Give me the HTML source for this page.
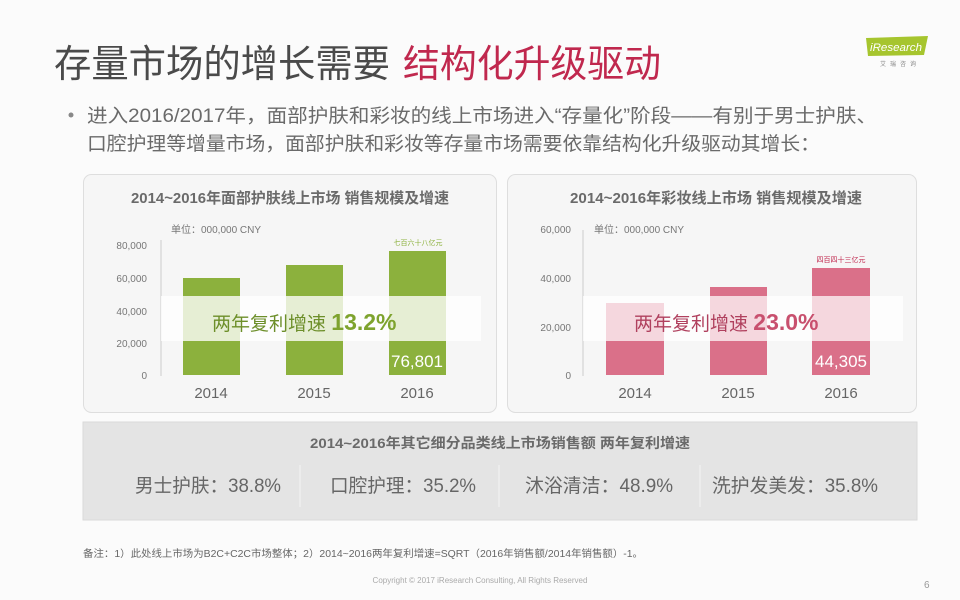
<!DOCTYPE html>
<html><head><meta charset="utf-8"><style>
html,body{margin:0;padding:0;background:#fff;}
svg{display:block;}
text{font-family:"Liberation Sans","Noto Sans CJK SC",sans-serif;}
</style></head><body>
<svg width="960" height="600" viewBox="0 0 960 600" xmlns="http://www.w3.org/2000/svg">
<rect width="960" height="600" fill="#fbfbfb"/>
<text x="54" y="77" font-size="38" fill="#4a4a4a" textLength="336" lengthAdjust="spacingAndGlyphs">存量市场的增长需要</text>
<text x="403" y="77" font-size="38" fill="#c0284e" textLength="258" lengthAdjust="spacingAndGlyphs">结构化升级驱动</text>
<polygon points="866,38 928,36 924,55 868,56" fill="#a6c52e"/>
<text x="870" y="51" font-size="11" fill="#fff" font-style="italic" textLength="52" lengthAdjust="spacingAndGlyphs">iResearch</text>
<text x="880" y="66" font-size="6" fill="#888" textLength="36" lengthAdjust="spacing">艾 瑞 咨 询</text>
<circle cx="71" cy="115" r="2.5" fill="#888"/>
<text x="87" y="122" font-size="19" fill="#6a6a6a" textLength="790" lengthAdjust="spacingAndGlyphs">进入2016/2017年，面部护肤和彩妆的线上市场进入“存量化”阶段——有别于男士护肤、</text>
<text x="87" y="150" font-size="19" fill="#6a6a6a" textLength="733" lengthAdjust="spacingAndGlyphs">口腔护理等增量市场，面部护肤和彩妆等存量市场需要依靠结构化升级驱动其增长：</text>
<rect x="83.5" y="174.5" width="413" height="238" rx="8" fill="#f6f6f6" stroke="#dedede"/>
<text x="290" y="203" font-size="15" font-weight="bold" fill="#6a6a6a" text-anchor="middle" textLength="318" lengthAdjust="spacingAndGlyphs">2014~2016年面部护肤线上市场 销售规模及增速</text>
<text x="171" y="233" font-size="10" fill="#777">单位：000,000 CNY</text>
<line x1="161" y1="240" x2="161" y2="376" stroke="#ccc"/>
<g font-size="10" fill="#777" text-anchor="end">
<text x="147" y="249">80,000</text><text x="147" y="282">60,000</text><text x="147" y="315">40,000</text><text x="147" y="347">20,000</text><text x="147" y="379">0</text></g>
<g fill="#8cb13d">
<rect x="183" y="278" width="57" height="97"/><rect x="286" y="265" width="57" height="110"/><rect x="389" y="251" width="57" height="124"/></g>
<text x="418" y="245" font-size="7" fill="#8cb13d" text-anchor="middle">七百六十八亿元</text>
<rect x="161" y="296" width="320" height="45" fill="#fff" opacity="0.78"/>
<text x="212" y="330" font-size="19" fill="#6d8f2a">两年复利增速 <tspan font-size="23" font-weight="bold" fill="#7ea32e">13.2%</tspan></text>
<text x="417" y="367" font-size="17" fill="#fff" text-anchor="middle">76,801</text>
<g font-size="15" fill="#666" text-anchor="middle">
<text x="211" y="398">2014</text><text x="314" y="398">2015</text><text x="417" y="398">2016</text></g>
<rect x="507.5" y="174.5" width="409" height="238" rx="8" fill="#f6f6f6" stroke="#dedede"/>
<text x="716" y="203" font-size="15" font-weight="bold" fill="#6a6a6a" text-anchor="middle" textLength="292" lengthAdjust="spacingAndGlyphs">2014~2016年彩妆线上市场 销售规模及增速</text>
<text x="594" y="233" font-size="10" fill="#777">单位：000,000 CNY</text>
<line x1="583" y1="230" x2="583" y2="376" stroke="#ccc"/>
<g font-size="10" fill="#777" text-anchor="end">
<text x="571" y="233">60,000</text><text x="571" y="282">40,000</text><text x="571" y="331">20,000</text><text x="571" y="379">0</text></g>
<g fill="#da7089">
<rect x="606" y="303" width="58" height="72"/><rect x="710" y="287" width="57" height="88"/><rect x="812" y="268" width="58" height="107"/></g>
<text x="841" y="262" font-size="7" fill="#c0284e" text-anchor="middle">四百四十三亿元</text>
<rect x="583" y="296" width="320" height="45" fill="#fff" opacity="0.72"/>
<text x="634" y="330" font-size="19" fill="#b0405e">两年复利增速 <tspan font-size="23" font-weight="bold" fill="#c8506e">23.0%</tspan></text>
<text x="841" y="367" font-size="17" fill="#fff" text-anchor="middle">44,305</text>
<g font-size="15" fill="#666" text-anchor="middle">
<text x="635" y="398">2014</text><text x="738" y="398">2015</text><text x="841" y="398">2016</text></g>
<rect x="83" y="422" width="834" height="98" fill="#e4e4e4" stroke="#dadada"/>
<text x="500" y="448" font-size="14" font-weight="bold" fill="#6a6a6a" text-anchor="middle" textLength="380" lengthAdjust="spacingAndGlyphs">2014~2016年其它细分品类线上市场销售额 两年复利增速</text>
<g stroke="#f3f3f3"><line x1="300" y1="465" x2="300" y2="507"/><line x1="499" y1="465" x2="499" y2="507"/><line x1="700" y1="465" x2="700" y2="507"/></g>
<g font-size="19" fill="#666">
<text x="135" y="492" textLength="146" lengthAdjust="spacingAndGlyphs">男士护肤：38.8%</text>
<text x="330" y="492" textLength="146" lengthAdjust="spacingAndGlyphs">口腔护理：35.2%</text>
<text x="525" y="492" textLength="148" lengthAdjust="spacingAndGlyphs">沐浴清洁：48.9%</text>
<text x="712" y="492" textLength="166" lengthAdjust="spacingAndGlyphs">洗护发美发：35.8%</text></g>
<text x="83" y="557" font-size="10" fill="#666" textLength="560" lengthAdjust="spacingAndGlyphs">备注：1）此处线上市场为B2C+C2C市场整体；2）2014~2016两年复利增速=SQRT（2016年销售额/2014年销售额）-1。</text>
<text x="480" y="583" font-size="8" fill="#aaa" text-anchor="middle">Copyright © 2017 iResearch Consulting, All Rights Reserved</text>
<text x="924" y="588" font-size="10" fill="#999">6</text>
</svg>
</body></html>
